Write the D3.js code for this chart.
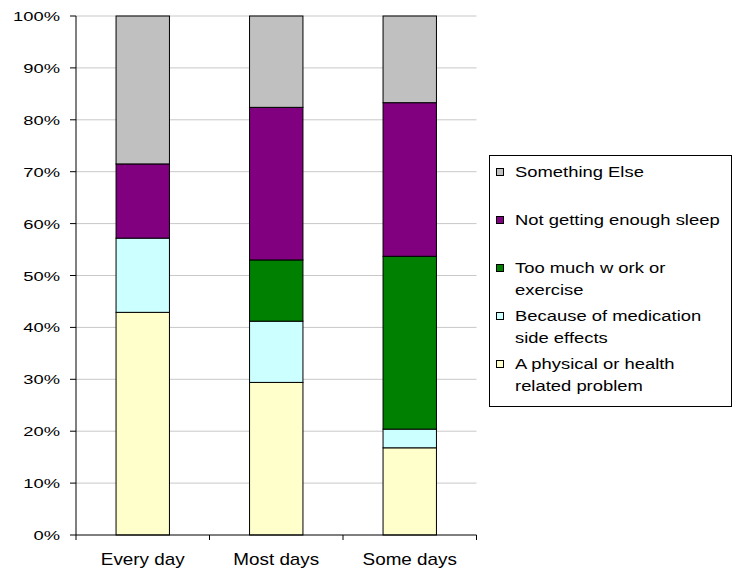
<!DOCTYPE html>
<html>
<head>
<meta charset="utf-8">
<script src="https://cdn.jsdelivr.net/npm/d3@7"></script>
<style>
  html, body { margin: 0; padding: 0; background: #fff; }
  svg { display: block; }
  text { font-family: "Liberation Sans", Arial, sans-serif; fill: #000; }
</style>
</head>
<body>
<svg id="chart" width="742" height="568"></svg>
<script>
const categories = ["Every day", "Most days", "Some days"];
const seriesNames = [
  "A physical or health related problem",
  "Because of medication side effects",
  "Too much w ork or exercise",
  "Not getting enough sleep",
  "Something Else"
];
const physicalProblem = [42.9, 29.4, 16.8];
const medicationEffects = [14.3, 11.8, 3.6];
const tooMuchWork = [0, 11.8, 33.3];
const notEnoughSleep = [14.3, 29.4, 29.6];
const somethingElse = [28.5, 17.6, 16.7];
const yTicks = [0, 10, 20, 30, 40, 50, 60, 70, 80, 90, 100];
const legendLines = [
  ["Something Else"],
  ["Not getting enough sleep"],
  ["Too much w ork or", "exercise"],
  ["Because of medication", "side effects"],
  ["A physical or health", "related problem"]
];
const colors = ["#FFFFCC", "#CCFFFF", "#008000", "#800080", "#C0C0C0"];

(function () {
const seriesValues = [physicalProblem, medicationEffects, tooMuchWork, notEnoughSleep, somethingElse];
const table = categories.map((c, i) => {
  const row = { category: c };
  seriesNames.forEach((s, k) => row[s] = seriesValues[k][i]);
  return row;
});
const stacked = d3.stack().keys(seriesNames)(table);

const svg = d3.select("#chart");
const pLeft = 76, pRight = 476.5, pTop = 16, pBottom = 535;

const x = d3.scaleBand().domain(categories).range([pLeft, pRight]).padding(0);
const y = d3.scaleLinear().domain([0, 100]).range([pBottom, pTop]);
const step = x.step();

// gridlines
svg.append("g").selectAll("line").data(yTicks.filter(d => d > 0)).join("line")
  .attr("x1", pLeft).attr("x2", pRight)
  .attr("y1", d => y(d)).attr("y2", d => y(d))
  .attr("stroke", "#c8c8c8").attr("stroke-width", 1);

// bars
const layers = svg.append("g").selectAll("g").data(stacked).join("g")
  .attr("fill", (d, i) => colors[i]);
layers.selectAll("rect").data(d => d.filter(p => p[1] - p[0] > 0)).join("rect")
  .attr("x", d => x(d.data.category) + step * 0.3)
  .attr("width", step * 0.4)
  .attr("y", d => y(d[1]))
  .attr("height", d => y(d[0]) - y(d[1]))
  .attr("stroke", "#000").attr("stroke-width", 1);

// y axis
svg.append("line").attr("x1", pLeft).attr("x2", pLeft).attr("y1", pTop).attr("y2", pBottom)
  .attr("stroke", "#000").attr("stroke-width", 1);
svg.append("g").selectAll("line").data(yTicks).join("line")
  .attr("x1", pLeft - 6).attr("x2", pLeft)
  .attr("y1", d => y(d)).attr("y2", d => y(d))
  .attr("stroke", "#000");
svg.append("g").selectAll("text").data(yTicks).join("text")
  .attr("transform", d => `translate(60,${y(d) + 5}) scale(1.36,1)`)
  .attr("text-anchor", "end")
  .style("font-size", "13.5px")
  .text(d => d + "%");

// x axis
svg.append("line").attr("x1", pLeft).attr("x2", pRight).attr("y1", pBottom).attr("y2", pBottom)
  .attr("stroke", "#000").attr("stroke-width", 1);
const xTickPos = categories.map(c => x(c)).concat([x(categories[categories.length - 1]) + step]);
svg.append("g").selectAll("line").data(xTickPos).join("line")
  .attr("x1", d => d).attr("x2", d => d)
  .attr("y1", pBottom).attr("y2", pBottom + 5)
  .attr("stroke", "#000");
svg.append("g").selectAll("text").data(categories).join("text")
  .attr("transform", c => `translate(${x(c) + step / 2},565) scale(1.18,1)`)
  .attr("text-anchor", "middle")
  .style("font-size", "16px")
  .text(c => c);

// legend
const lg = svg.append("g");
lg.append("rect").attr("x", 489.5).attr("y", 155.5).attr("width", 242).attr("height", 251)
  .attr("fill", "#fff").attr("stroke", "#000").attr("stroke-width", 1);
const legendOrder = [4, 3, 2, 1, 0];
legendOrder.forEach((si, i) => {
  const cy = 172 + i * 48;
  lg.append("rect").attr("x", 496.5).attr("y", cy - 3.5).attr("width", 7).attr("height", 7)
    .attr("fill", colors[si]).attr("stroke", "#000").attr("stroke-width", 1);
  legendLines[i].forEach((line, j) => {
    lg.append("text")
      .attr("transform", `translate(515,${cy + 5 + j * 21.5}) scale(1.27,1)`)
      .style("font-size", "14.5px")
      .text(line);
  });
});
})();
</script>
</body>
</html>
